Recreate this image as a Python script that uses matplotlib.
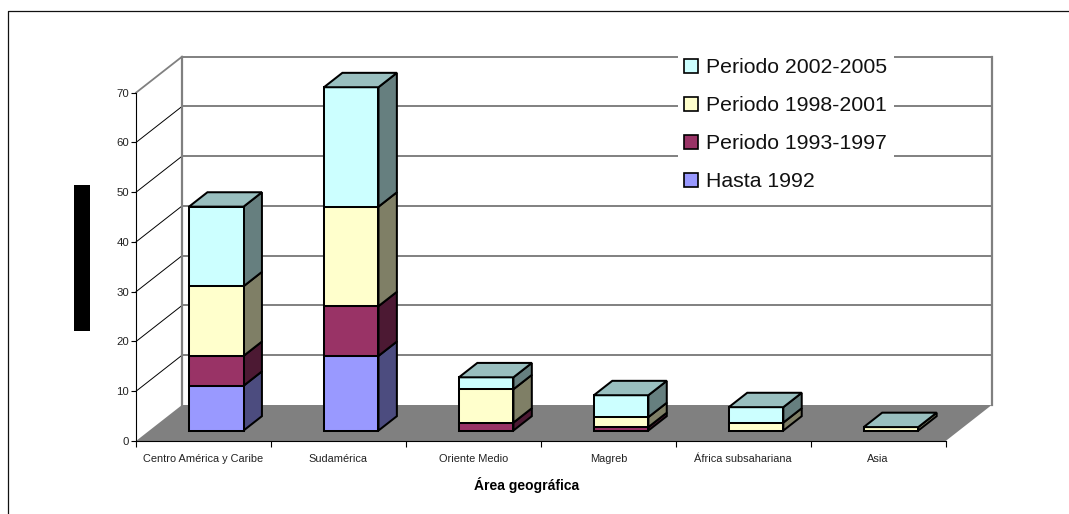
import matplotlib
matplotlib.use("Agg")
import matplotlib.pyplot as plt
from matplotlib.patches import Polygon, Rectangle
from matplotlib.lines import Line2D

plt.rcParams['font.family'] = ['Liberation Sans', 'DejaVu Sans']

categories = ["Centro América y Caribe", "Sudamérica", "Oriente Medio", "Magreb",
              "África subsahariana", "Asia"]
hasta_1992 = [9, 15, 0, 0, 0, 0]
periodo_1993_1997 = [6, 10, 1.6, 0.7, 0, 0]
periodo_1998_2001 = [14, 20, 6.7, 2.0, 1.6, 0.7]
periodo_2002_2005 = [16, 24, 2.4, 4.4, 3.1, 0]
series_names = ["Hasta 1992", "Periodo 1993-1997", "Periodo 1998-2001", "Periodo 2002-2005"]
series_values = [hasta_1992, periodo_1993_1997, periodo_1998_2001, periodo_2002_2005]
value_ticks = [0, 10, 20, 30, 40, 50, 60, 70]

front = ["#9999FF", "#993366", "#FFFFCC", "#CCFFFF"]
side = ["#4C4C7F", "#4C1933", "#7F7F66", "#667F7F"]
top_color = "#99BFBF"
GRAY = "#808080"

W, H = 1069, 514
fig = plt.figure(figsize=(W / 100, H / 100), dpi=100, facecolor="white")
# plot box: front plane of the chart
L, R, T, B = 136.0, 945.7, 92.7, 441.0
ax = fig.add_axes([L / W, 1 - B / H, (R - L) / W, (B - T) / H])
ax.set_xlim(0, len(categories))
ax.set_ylim(0, 70)
ax.patch.set_alpha(0)

# oblique depth vector, in data units for a depth of 1
DX = 46.0 / ((R - L) / len(categories))
DY = 36.0 / ((B - T) / 70.0)


def P(x, y, t):
    return (x + t * DX, y + t * DY)


ncat = len(categories)
# floor
ax.add_patch(Polygon([P(0, 0, 0), P(ncat, 0, 0), P(ncat, 0, 1), P(0, 0, 1)],
                     fc=GRAY, ec="none", clip_on=False, zorder=1))
# back wall gridlines, side wall gridlines
for v in value_ticks[1:]:
    a, b = P(0, v, 1), P(ncat, v, 1)
    ax.plot([a[0], b[0]], [a[1], b[1]], color=GRAY, lw=1.4, clip_on=False, zorder=1,
            solid_capstyle="butt")
    c = P(0, v, 0)
    top = v == value_ticks[-1]
    ax.plot([c[0], a[0]], [c[1], a[1]], color=GRAY if top else "black", lw=1.3 if top else 0.7,
            clip_on=False, zorder=1)
for x in (0, ncat):
    a, b = P(x, 0, 1), P(x, 70, 1)
    ax.plot([a[0], b[0]], [a[1], b[1]], color=GRAY, lw=1.6, clip_on=False, zorder=1,
            solid_capstyle="projecting")

# stacked oblique bars
bar_w = 54.5 / ((R - L) / ncat)
t0, depth = 0.29, 0.40
edge = dict(ec="black", lw=1.45, joinstyle="miter", clip_on=False, zorder=2)
for i in range(ncat):
    x0 = i + 0.5 - bar_w / 2 - 0.004
    x1 = x0 + bar_w
    base = 0
    for s, vals in enumerate(series_values):
        v = vals[i]
        if v > 0:
            ax.add_patch(Polygon([P(x1, base, t0), P(x1, base + v, t0),
                                  P(x1, base + v, t0 + depth), P(x1, base, t0 + depth)],
                                 fc=side[s], **edge))
            ax.add_patch(Polygon([P(x0, base, t0), P(x1, base, t0),
                                  P(x1, base + v, t0), P(x0, base + v, t0)],
                                 fc=front[s], **edge))
        base += v
    ax.add_patch(Polygon([P(x0, base, t0), P(x1, base, t0),
                          P(x1, base, t0 + depth), P(x0, base, t0 + depth)],
                         fc=top_color, **edge))

# axes
for sp in ("top", "right"):
    ax.spines[sp].set_visible(False)
for sp in ("left", "bottom"):
    ax.spines[sp].set_linewidth(0.8)
    ax.spines[sp].set_zorder(3)
ax.set_yticks(value_ticks)
ax.set_xticks(range(ncat + 1))
ax.set_xticklabels([])
ax.set_xticks([i + 0.5 for i in range(ncat)], minor=True)
ax.set_xticklabels(categories, minor=True, fontsize=7.9, color="#222222")
ax.tick_params(axis="x", which="minor", length=0, pad=9.5)
ax.tick_params(axis="x", which="major", length=4.5, width=0.8)
ax.tick_params(axis="y", length=3.5, width=0.8, pad=1.5, labelsize=8.2, labelcolor="#222222")
ax.set_xlabel("Área geográfica", fontsize=10, fontweight="bold", labelpad=9.5,
              x=(527.0 - L) / (R - L))

# legend
handles = [Rectangle((0, 0), 1, 1, fc=front[s], ec="black", lw=1.2) for s in (3, 2, 1, 0)]
labels = [series_names[s] for s in (3, 2, 1, 0)]
leg = ax.legend(handles, labels, loc="upper left", bbox_to_anchor=(678 / W, 1 - 52 / H),
                bbox_transform=fig.transFigure, fontsize=15.3, frameon=True, framealpha=1,
                facecolor="white", edgecolor="none", fancybox=False, borderpad=0.3,
                borderaxespad=0, handlelength=0.62, handleheight=0.62, handletextpad=0.4,
                labelspacing=0.89, labelcolor="#111111")
leg.set_zorder(5)
leg.get_frame().set_linewidth(0)

# frame lines and the black block left of the axis
fig.add_artist(Line2D([7.5 / W, 7.5 / W, 1], [0, 1 - 11 / H, 1 - 11 / H], color="#111111", lw=0.9))
fig.add_artist(Rectangle((74 / W, 1 - 331 / H), 16 / W, 146 / H, fc="black", ec="none",
                         transform=fig.transFigure))

fig.savefig("out.png", dpi=100, facecolor="white")
